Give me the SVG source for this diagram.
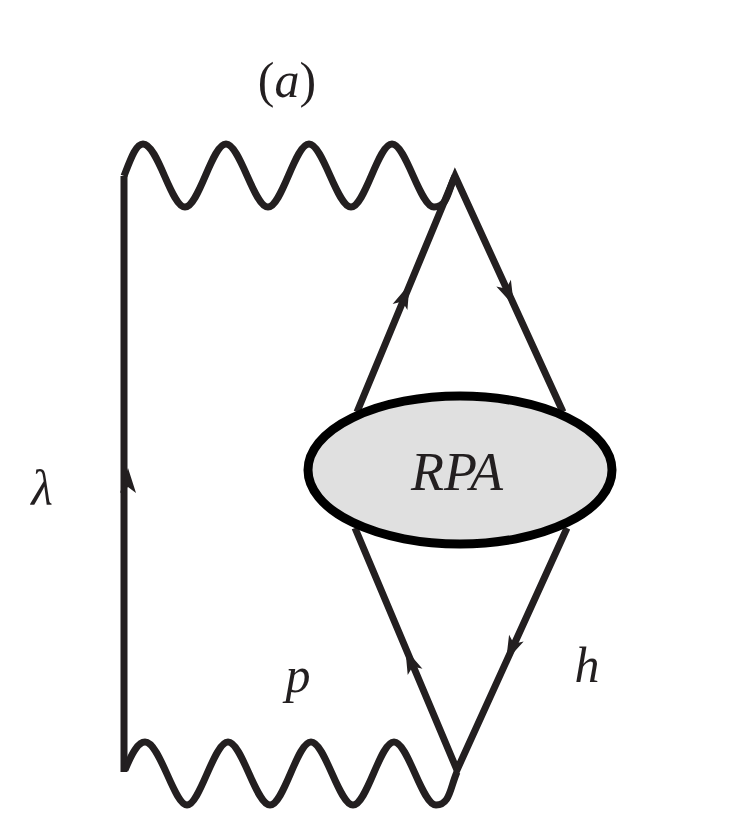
<svg xmlns="http://www.w3.org/2000/svg" width="747" height="830" viewBox="0 0 747 830">
<style>
.l{fill:none;stroke:#231f20;stroke-width:7}
.t{font-family:"Liberation Serif",serif;font-style:italic;fill:#231f20}
</style>
<defs><path id="ar" d="M12,0 L-13,-8 L-7,0 L-13,8 Z" fill="#231f20"/></defs>
<rect width="747" height="830" fill="#fff"/>
<g id="connectors">
<path class="l" d="M124,176 L124,772"/>
<path class="l" d="M124,176 C131,158 136,144 143,144 C158,144 171,207 185,207 S212,144 226,144 S254,207 268,207 S295,144 309,144 S337,207 351,207 S378,144 392,144 S420,207 434,207 S448,190 455,176"/>
<path class="l" d="M125,770 C132,753 138,742 145,742 C160,742 174,805 187,805 S214,742 228,742 S256,805 270,805 S297,742 311,742 S339,805 353,805 S380,742 394,742 S422,805 436,805 S450,788 457,772"/>
<path class="l" d="M357,412 L455,176 L563,412"/>
<path class="l" d="M355,528 L457,770 L567,528"/>
<use href="#ar" transform="translate(128,480) rotate(-90)"/>
<use href="#ar" transform="translate(405,295) rotate(-67.4)"/>
<use href="#ar" transform="translate(509,295) rotate(65.5)"/>
<use href="#ar" transform="translate(410,660) rotate(-113)"/>
<use href="#ar" transform="translate(511,650) rotate(114.4)"/>
</g>
<g id="rpa">
<ellipse cx="460" cy="470" rx="152" ry="74" fill="#e0e0e0" stroke="#000" stroke-width="9"/>
<text class="t" x="457" y="490" font-size="54" text-anchor="middle">RPA</text>
</g>
<g id="labels">
<text class="t" x="287" y="97" font-size="50" text-anchor="middle" style="font-style:normal">(<tspan font-style="italic">a</tspan>)</text>
<text class="t" x="42" y="505" font-size="50" text-anchor="middle">λ</text>
<text class="t" x="298" y="692" font-size="50" text-anchor="middle">p</text>
<text class="t" x="587" y="682" font-size="50" text-anchor="middle">h</text>
</g>
</svg>
